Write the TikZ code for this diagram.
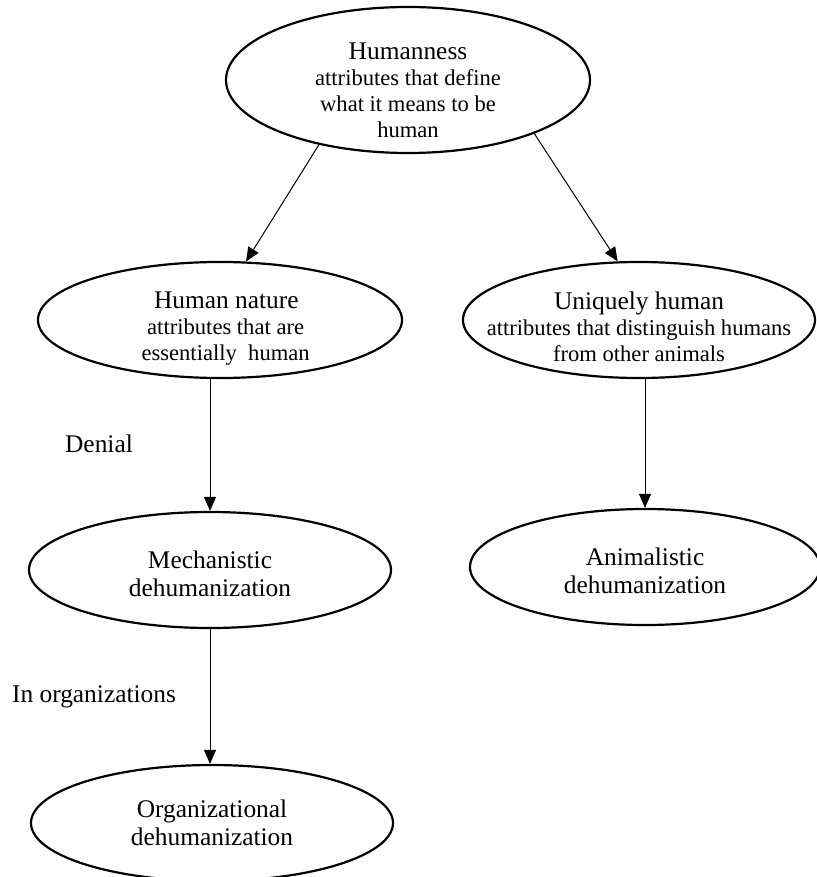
\documentclass[tikz,border=0pt]{standalone}
\usepackage{fontspec}
\setmainfont{Liberation Serif}
\usetikzlibrary{shapes.geometric, arrows.meta}

\newcommand{\subtext}{\fontsize{11.3}{12.5}\selectfont}
\newcommand{\topgap}[1]{\rule{0pt}{#1}}

\begin{document}
\begin{tikzpicture}[
         x=0.5pt, y=-0.5pt,
         concept/.style={ellipse, draw, line width=1.1pt, inner sep=-30pt, align=center,
                         font=\fontsize{12.7}{14}\selectfont},
         link/.style={-{Triangle[length=7pt, width=6pt]}, line width=0.5pt},
         relation/.style={font=\fontsize{12.7}{14}\selectfont}
      ]
         \useasboundingbox (0,0) rectangle (817,877);

         % Nodes for concepts
         \node[concept, minimum width=182pt, minimum height=73pt] (humanness) at (408,80)
            {\topgap{19pt}Humanness\\[-1pt] \subtext attributes that define\\[-1pt]
             \subtext what it means to be\\[-1pt] \subtext human};
         \node[concept, minimum width=182pt, minimum height=58pt] (hnature) at (220,320)
            {\topgap{17pt}\ \ Human nature\\[-1pt] \subtext \ \ attributes that are\\[-1pt]
             \subtext \ \ essentially\ \ human};
         \node[concept, minimum width=176pt, minimum height=58pt] (uhuman) at (639,320)
            {\topgap{16pt}Uniquely human\\[-1pt] \subtext attributes that distinguish humans\\[-1pt]
             \subtext from other animals};
         \node[concept, minimum width=181pt, minimum height=58pt] (mech) at (210,570)
            {\topgap{13pt}Mechanistic\\ dehumanization};
         \node[concept, minimum width=175pt, minimum height=58pt] (anim) at (645,567)
            {\topgap{13pt}Animalistic\\ dehumanization};
         \node[concept, minimum width=181pt, minimum height=58pt] (org) at (212,823)
            {Organizational\\ dehumanization};

         % Labels beside the arrows
         \node[relation] (denial) at (99,444) {Denial};
         \node[relation] (inorg) at (94,697) {In organizations};

         % Arrows
         \draw[link] (humanness.216) -- (hnature.66);
         \draw[link] (humanness.337) -- (uhuman.110);
         \draw[link] (hnature.south -| mech.north) -- (mech.north);
         \draw[link] (uhuman.south -| anim.north) -- (anim.north);
         \draw[link] (mech.south) -- (mech.south |- org.north);
      \end{tikzpicture}
\end{document}
